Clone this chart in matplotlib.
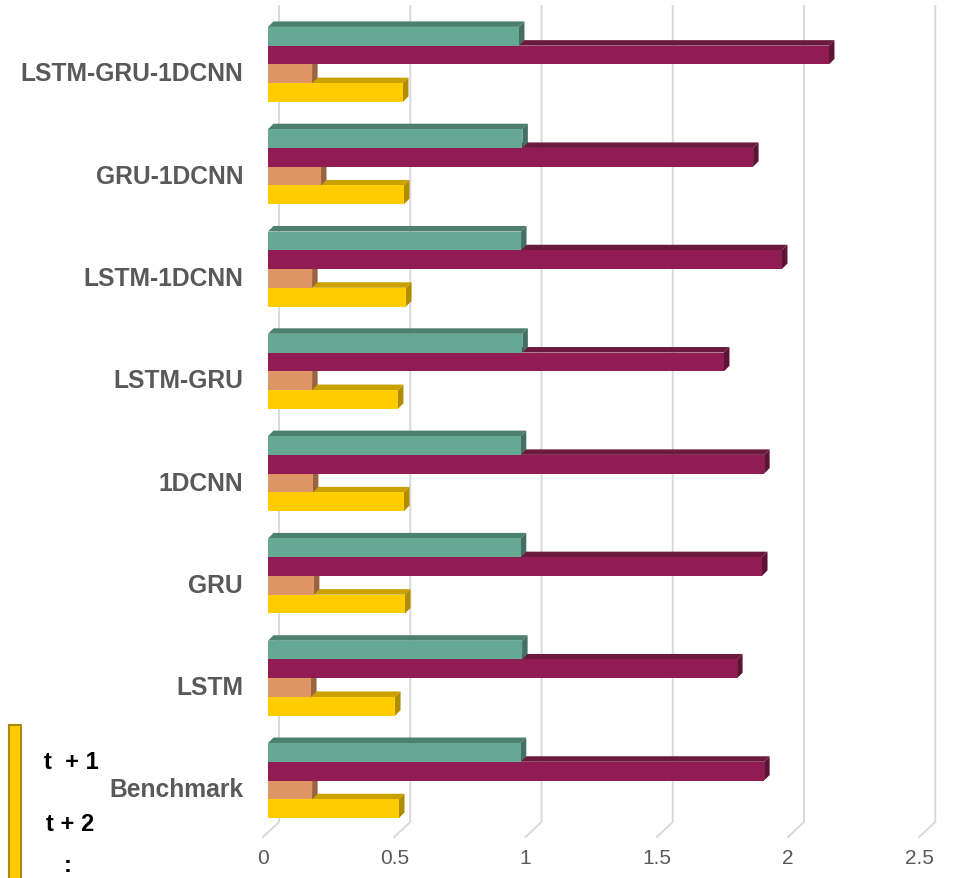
import matplotlib
matplotlib.use("Agg")
import matplotlib.pyplot as plt
from matplotlib.patches import Polygon, Rectangle
import numpy as np

# Models, listed top to bottom as they appear on the chart
categories = ["LSTM-GRU-1DCNN", "GRU-1DCNN", "LSTM-1DCNN", "LSTM-GRU",
              "1DCNN", "GRU", "LSTM", "Benchmark"]

# Series values per model (same order as categories)
series_teal = [0.956, 0.969, 0.964, 0.969, 0.963, 0.963, 0.968, 0.963]
series_maroon = [2.137, 1.848, 1.958, 1.737, 1.890, 1.882, 1.787, 1.890]
series_orange = [0.168, 0.202, 0.168, 0.168, 0.171, 0.175, 0.164, 0.168]
series_yellow = [0.514, 0.518, 0.526, 0.495, 0.518, 0.522, 0.484, 0.499]

x_ticks = [0, 0.5, 1, 1.5, 2, 2.5]
x_tick_labels = ["0", "0.5", "1", "1.5", "2", "2.5"]
legend_labels = ["t  + 1", "t + 2", ":"]

# colours: (front, top face, side face)
STYLE = {
    "teal": ("#65A893", "#4E806F", "#44705F"),
    "maroon": ("#901C53", "#6B1A3E", "#5E1236"),
    "orange": ("#DF9666", "#A86C45", "#9A6440"),
    "yellow": ("#FFCC00", "#C9A100", "#B08C00"),
}

W, H = 961, 879
fig = plt.figure(figsize=(W / 100, H / 100), dpi=100)

# axes box in pixels
ax_l, ax_r, ax_t, ax_b = 250, 950, 5, 845
ax = fig.add_axes([ax_l / W, (H - ax_b) / H, (ax_r - ax_l) / W, (ax_b - ax_t) / H])

px_x = 262.5      # pixels per value unit
px_y = 102.3      # pixels per category step
x0_px = 268       # pixel of value 0 on bar fronts
c0_px = 781.5     # pixel row of the bottom group centre

ax.set_xlim((ax_l - x0_px) / px_x, (ax_r - x0_px) / px_x)
ax.set_ylim((c0_px - ax_b) / px_y, (c0_px - ax_t) / px_y)
for s in ax.spines.values():
    s.set_visible(False)

n = len(categories)
pos = np.arange(n)[::-1].astype(float)   # top category gets the highest position

# back wall / floor gridlines
back_off = 11 / px_x
front_off = -5 / px_x
y_top = (c0_px - 7) / px_y
y_wall = (c0_px - 823) / px_y
y_front = (c0_px - 838) / px_y
for t in x_ticks:
    ax.plot([t + back_off, t + back_off, t + front_off],
            [y_top, y_wall, y_front], color="#D9D9D9", lw=1.4,
            zorder=0, clip_on=False, solid_joinstyle="miter")

h = 18.75 / px_y
dx = 5.5 / px_x
dy = 5.5 / px_y

stack = [("yellow", series_yellow, -1.5), ("orange", series_orange, -0.5),
         ("maroon", series_maroon, 0.5), ("teal", series_teal, 1.5)]

for gi in range(n):
    for si, (name, vals, off) in enumerate(stack):
        front, topc, sidec = STYLE[name]
        v = vals[gi]
        yc = pos[gi] + off * h
        yb, yt = yc - h / 2, yc + h / 2
        z = 2 + si
        ax.add_patch(Polygon([(0, yt), (v, yt), (v + dx, yt + dy), (dx, yt + dy)],
                             closed=True, facecolor=topc, edgecolor="none", zorder=z))
        ax.add_patch(Polygon([(v, yb), (v, yt), (v + dx, yt + dy), (v + dx, yb + dy)],
                             closed=True, facecolor=sidec, edgecolor="none", zorder=z))
        ax.barh(yc, v, height=h, left=0, color=front, edgecolor="none", zorder=z + 0.5)

# category labels
ax.set_yticks(pos - 6.5 / px_y)
ax.set_yticklabels(categories, fontfamily="Liberation Sans", fontweight="bold",
                   fontsize=17.7, color="#595959")
ax.tick_params(axis="y", length=0, pad=5)

# value labels along the front edge of the floor
ax.set_xticks(np.array(x_ticks) + front_off)
ax.set_xticklabels(x_tick_labels, fontfamily="Liberation Sans", fontsize=15,
                   color="#595959")
ax.tick_params(axis="x", length=0, pad=3)

# legend strip at the lower left
fig.patches.append(Rectangle((9 / W, (H - 895) / H), 12 / W, (895 - 726) / H,
                             transform=fig.transFigure, facecolor="#FFCC00",
                             edgecolor="#A88A10", lw=1.5, zorder=5))
fig.text(44 / W, 1 - 763 / H, legend_labels[0], fontfamily="Liberation Sans",
         fontweight="bold", fontsize=17, color="black", va="center", ha="left")
fig.text(46 / W, 1 - 825 / H, legend_labels[1], fontfamily="Liberation Sans",
         fontweight="bold", fontsize=17, color="black", va="center", ha="left")
fig.text(68 / W, 1 - 872 / H, legend_labels[2], fontfamily="Liberation Sans",
         fontweight="bold", fontsize=17, color="black", va="baseline", ha="center")

fig.savefig("out.png", dpi=100)
